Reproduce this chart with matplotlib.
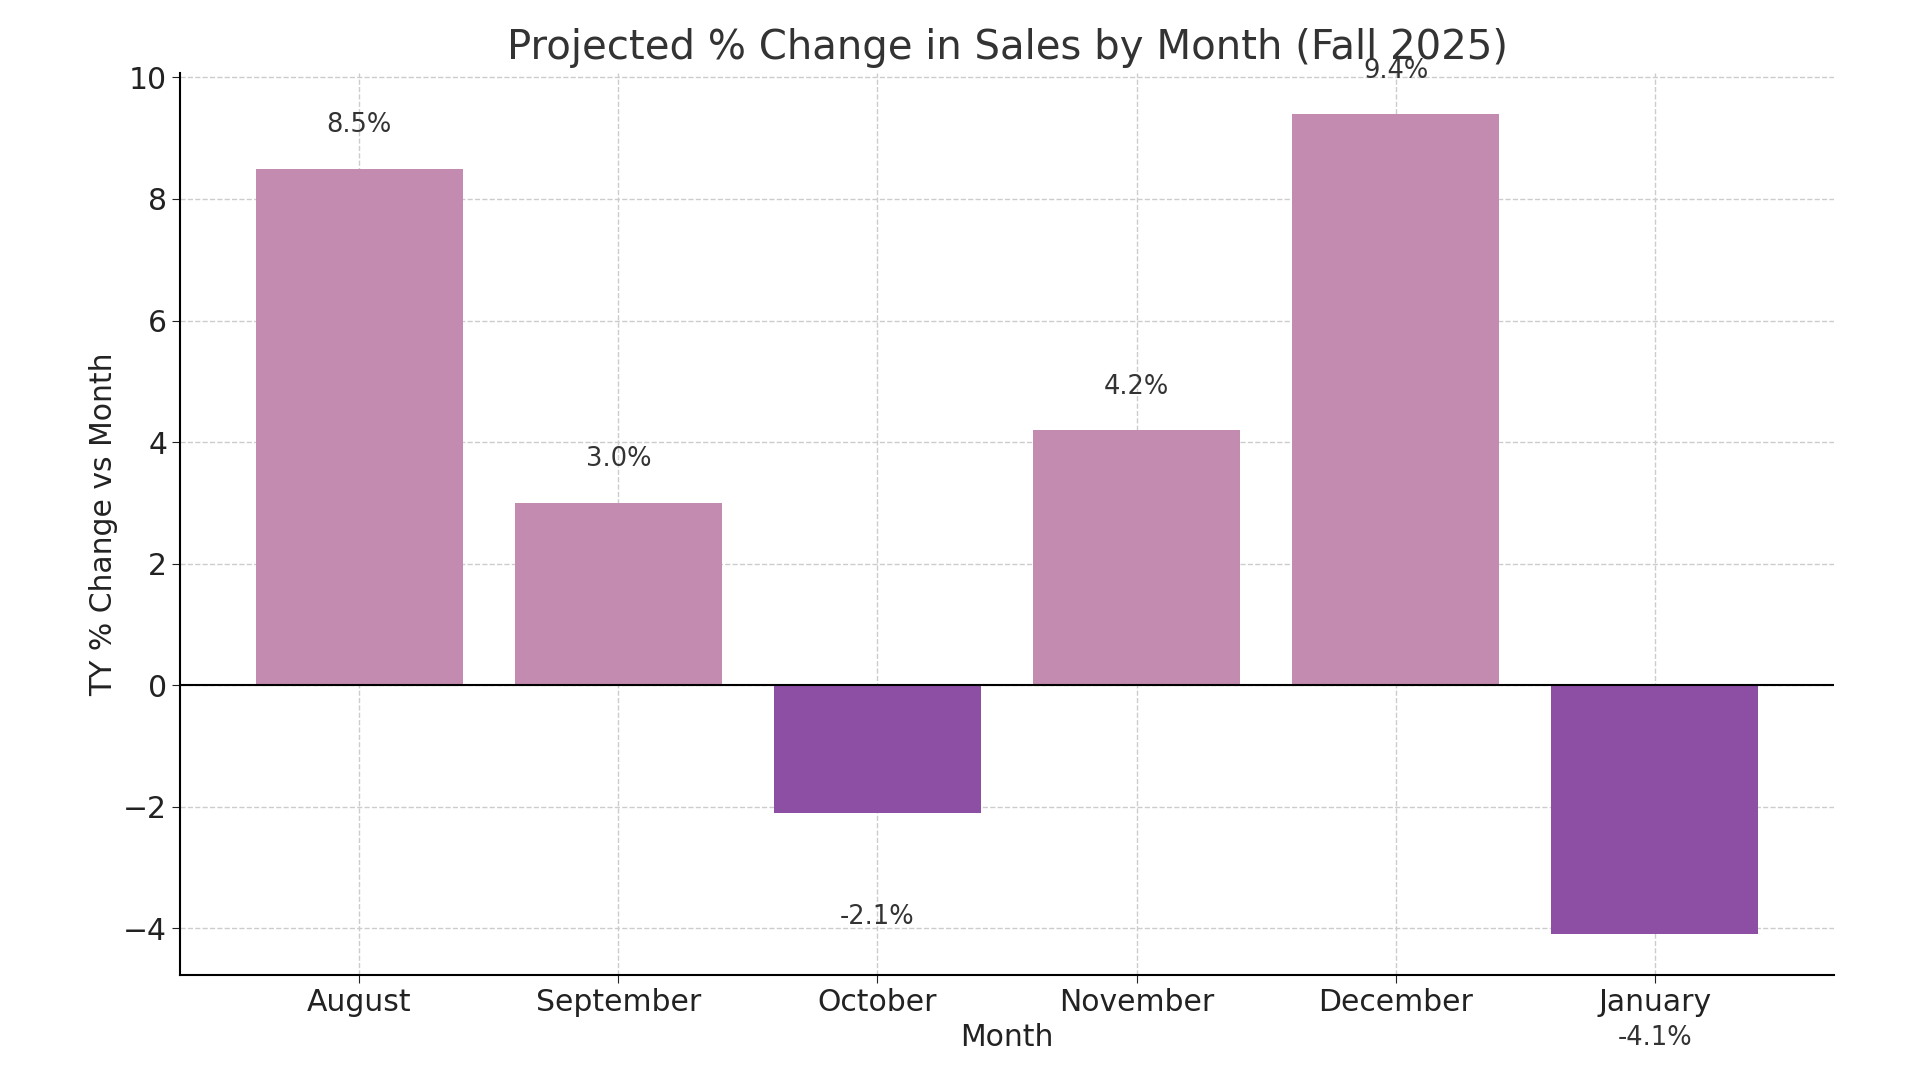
import matplotlib
matplotlib.use("Agg")
import matplotlib.pyplot as plt

months = ["August", "September", "October", "November", "December", "January"]
pct_change = [8.5, 3.0, -2.1, 4.2, 9.4, -4.1]

pos_color = "#C38BAF"
neg_color = "#8C4FA3"
colors = [pos_color if v >= 0 else neg_color for v in pct_change]

fig = plt.figure(figsize=(19.2, 10.8), dpi=100)
ax = fig.add_axes([0.094, 0.097, 0.861, 0.8355])

bars = ax.bar(months, pct_change, color=colors, zorder=2)
ax.axhline(0, color="black", linewidth=1.5, zorder=3)

for i, v in enumerate(pct_change):
    if v >= 0:
        ax.text(i, v + 0.5, f"{v}%", ha="center", va="bottom", fontsize=18.5, color="#333333")
    else:
        ax.text(i, v - 1.5, f"{v}%", ha="center", va="top", fontsize=18.5, color="#333333")

ax.set_title("Projected % Change in Sales by Month (Fall 2025)", fontsize=29, color="#333333", pad=10)
ax.set_xlabel("Month", fontsize=21.5, color="#222222")
ax.set_ylabel("TY % Change vs Month", fontsize=21.5, color="#222222")
ax.tick_params(labelsize=21.5, colors="#222222", length=6)
ax.grid(True, linestyle="--", color="#cccccc", linewidth=1, zorder=0)
ax.set_axisbelow(True)
ax.spines["top"].set_visible(False)
ax.spines["right"].set_visible(False)
ax.spines["left"].set_linewidth(1.5)
ax.spines["bottom"].set_linewidth(1.5)

fig.savefig("out.png", dpi=100)
